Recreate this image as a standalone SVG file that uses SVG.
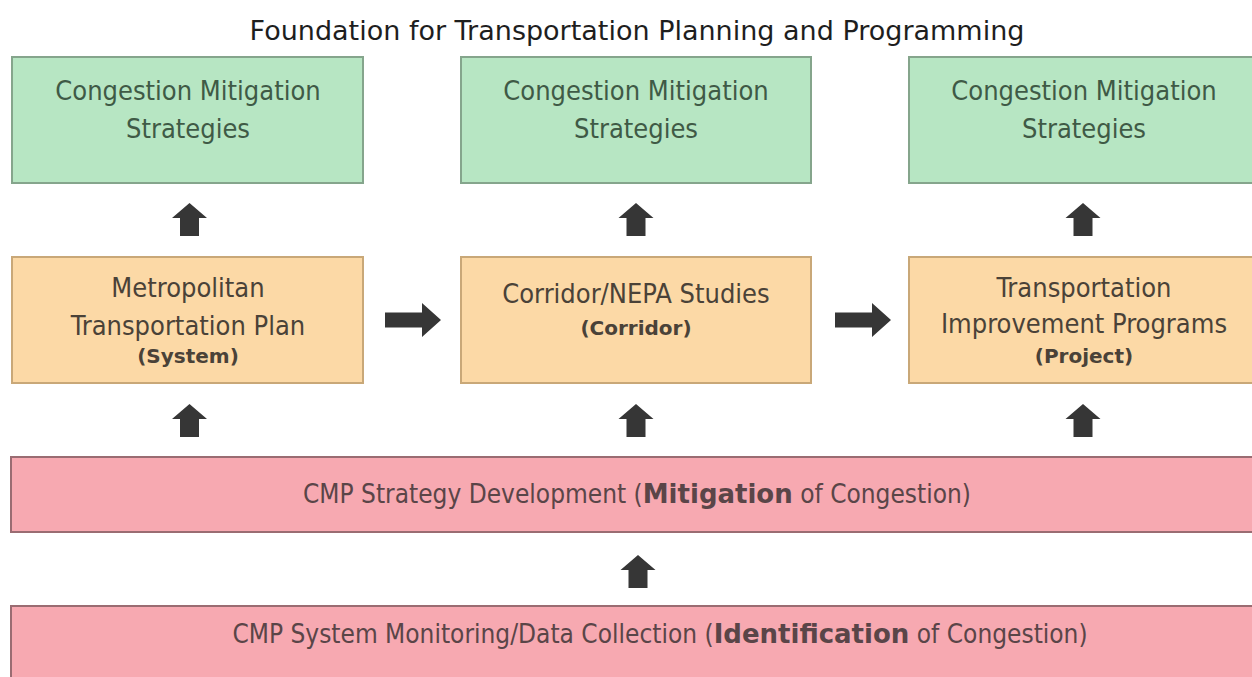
<svg xmlns="http://www.w3.org/2000/svg" xmlns:xlink="http://www.w3.org/1999/xlink" width="1252" height="677" viewBox="0 0 1252 677">
<style>
.title{font-family:"DejaVu Sans","Verdana",sans-serif;font-size:27px;fill:#1e1e1e}
.t{font-family:"DejaVu Sans Condensed","DejaVu Sans",sans-serif;font-size:27px;text-anchor:middle}
.g rect{fill:#b7e6c3;stroke:#85a58c;stroke-width:2}
.g text{fill:#3f5a46}
.o rect{fill:#fcd9a6;stroke:#c9a878;stroke-width:2}
.o text{fill:#4a4238}
.p rect{fill:#f7a9b1;stroke:#9a6c72;stroke-width:2}
.p text{fill:#5a4548;font-size:26px}
.b{font-family:"DejaVu Sans","Verdana",sans-serif;font-weight:bold;font-size:20px}
.pb{font-family:"DejaVu Sans","Verdana",sans-serif;font-weight:bold}
.arr{fill:#363636}
</style>
<defs>
<path id="up" d="M0,0 L17.5,15 L9.5,15 L9.5,33 L-9.5,33 L-9.5,15 L-17.5,15 Z"/>
<path id="right" d="M0,-7.5 L37,-7.5 L37,-17 L56,0 L37,17 L37,7.5 L0,7.5 Z"/>
</defs>
<rect width="1252" height="677" fill="#ffffff"/>
<text class="title" x="637" y="40" text-anchor="middle">Foundation for Transportation Planning and Programming</text>

<g id="cms1" class="g"><rect x="12" y="57" width="351" height="126"/><text class="t" x="188" y="100">Congestion Mitigation</text><text class="t" x="188" y="138">Strategies</text></g>
<g id="cms2" class="g"><rect x="461" y="57" width="350" height="126"/><text class="t" x="636" y="100">Congestion Mitigation</text><text class="t" x="636" y="138">Strategies</text></g>
<g id="cms3" class="g"><rect x="909" y="57" width="360" height="126"/><text class="t" x="1084" y="100">Congestion Mitigation</text><text class="t" x="1084" y="138">Strategies</text></g>

<g id="mtp" class="o"><rect x="12" y="257" width="351" height="126"/><text class="t" x="188" y="297">Metropolitan</text><text class="t" x="188" y="335">Transportation Plan</text><text class="t b" x="188" y="363">(System)</text></g>
<g id="nepa" class="o"><rect x="461" y="257" width="350" height="126"/><text class="t" x="636" y="303">Corridor/NEPA Studies</text><text class="t b" x="636" y="335">(Corridor)</text></g>
<g id="tip" class="o"><rect x="909" y="257" width="360" height="126"/><text class="t" x="1084" y="297">Transportation</text><text class="t" x="1084" y="333">Improvement Programs</text><text class="t b" x="1084" y="363">(Project)</text></g>

<g id="strategy" class="p"><rect x="11" y="457" width="1260" height="75"/><text class="t" x="637" y="503">CMP Strategy Development (<tspan class="pb">Mitigation</tspan> of Congestion)</text></g>
<g id="monitoring" class="p"><rect x="11" y="606" width="1260" height="90"/><text class="t" x="660" y="643">CMP System Monitoring/Data Collection (<tspan class="pb">Identification</tspan> of Congestion)</text></g>

<g id="connectors" class="arr">
<use xlink:href="#up" x="189.5" y="203"/>
<use xlink:href="#up" x="636" y="203"/>
<use xlink:href="#up" x="1083" y="203"/>
<use xlink:href="#up" x="189.5" y="404"/>
<use xlink:href="#up" x="636" y="404"/>
<use xlink:href="#up" x="1083" y="404"/>
<use xlink:href="#up" x="638" y="555"/>
<use xlink:href="#right" x="385" y="320"/>
<use xlink:href="#right" x="835" y="320"/>
</g>
</svg>
